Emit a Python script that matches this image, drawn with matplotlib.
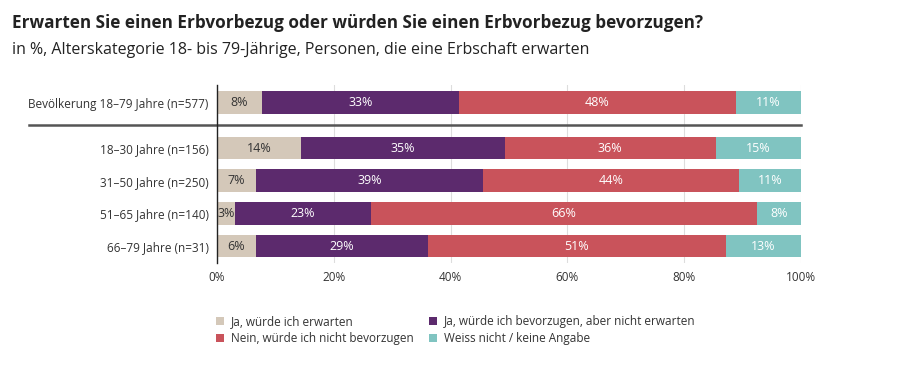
import matplotlib
matplotlib.use('Agg')
import matplotlib.pyplot as plt
from matplotlib.patches import Patch

plt.rcParams['font.family'] = ['Open Sans', 'DejaVu Sans']

# Daten (Anteile in %)
gruppen = ["Bevölkerung 18–79 Jahre (n=577)", "18–30 Jahre (n=156)", "31–50 Jahre (n=250)",
           "51–65 Jahre (n=140)", "66–79 Jahre (n=31)"]
kategorien = ["Ja, würde ich erwarten", "Ja, würde ich bevorzugen, aber nicht erwarten",
              "Nein, würde ich nicht bevorzugen", "Weiss nicht / keine Angabe"]
ja_erwarten = [7.7, 14.4, 6.7, 3.1, 6.7]
ja_bevorzugen = [33.7, 34.9, 38.8, 23.3, 29.4]
nein = [47.5, 36.1, 43.9, 66.1, 51.1]
weiss_nicht = [11.1, 14.6, 10.6, 7.5, 12.8]
etiketten = [["8%", "33%", "48%", "11%"],
             ["14%", "35%", "36%", "15%"],
             ["7%", "39%", "44%", "11%"],
             ["3%", "23%", "66%", "8%"],
             ["6%", "29%", "51%", "13%"]]

farben = ["#d4c8b9", "#5c2a6d", "#c9535b", "#80c4c1"]
textfarben = ["#333333", "white", "white", "white"]
ypos = [0, 1.38, 2.38, 3.38, 4.38]

fig = plt.figure(figsize=(9, 3.71), dpi=100)
ax = fig.add_axes([0.241, 0.291, 0.649, 0.48])

serien = [ja_erwarten, ja_bevorzugen, nein, weiss_nicht]
links = [0] * len(gruppen)
for k, werte in enumerate(serien):
    bars = ax.barh(ypos, werte, left=links, height=0.7, color=farben[k], zorder=2)
    for i, b in enumerate(bars):
        ax.text(links[i] + werte[i] / 2, ypos[i], etiketten[i][k], ha='center', va='center',
                fontsize=9, color=textfarben[k], zorder=3)
    links = [l + w for l, w in zip(links, werte)]

ax.set_xlim(0, 100)
ax.set_ylim(4.9, -0.55)
ax.set_yticks(ypos)
ax.set_yticklabels(gruppen, fontsize=8.5, color='#333333')
ax.set_xticks([0, 20, 40, 60, 80, 100])
ax.set_xticklabels(["0%", "20%", "40%", "60%", "80%", "100%"], fontsize=8.5, color='#333333')
ax.tick_params(length=0, pad=6)
for sp in ['top', 'right', 'bottom']:
    ax.spines[sp].set_visible(False)
ax.spines['left'].set_color('#222222')
ax.spines['left'].set_linewidth(1)
ax.spines['left'].set_zorder(4)
ax.grid(axis='x', color='#dddddd', linewidth=0.8, zorder=0)

# Trennlinie zwischen Gesamtbevölkerung und Altersgruppen
ax.plot([-0.322, 1.0], [0.69, 0.69], transform=ax.get_yaxis_transform(), color='#555555',
        linewidth=1.8, clip_on=False, zorder=3)

fig.text(0.013, 0.925, "Erwarten Sie einen Erbvorbezug oder würden Sie einen Erbvorbezug bevorzugen?",
         fontsize=12.3, fontweight='bold', color='#222222')
fig.text(0.013, 0.855, "in %, Alterskategorie 18- bis 79-Jährige, Personen, die eine Erbschaft erwarten",
         fontsize=11.5, color='#222222')

reihenfolge = [0, 2, 1, 3]
handles = [Patch(facecolor=farben[i], label=kategorien[i]) for i in reihenfolge]
fig.legend(handles=handles, loc='upper left', bbox_to_anchor=(0.24, 0.15), ncol=2, frameon=False,
           fontsize=8.5, handlelength=0.7, handleheight=0.7, handletextpad=0.6, columnspacing=1.25,
           labelspacing=0.3, borderaxespad=0, borderpad=0, labelcolor='#333333')

fig.savefig('out.png', dpi=100)
plt.close()
